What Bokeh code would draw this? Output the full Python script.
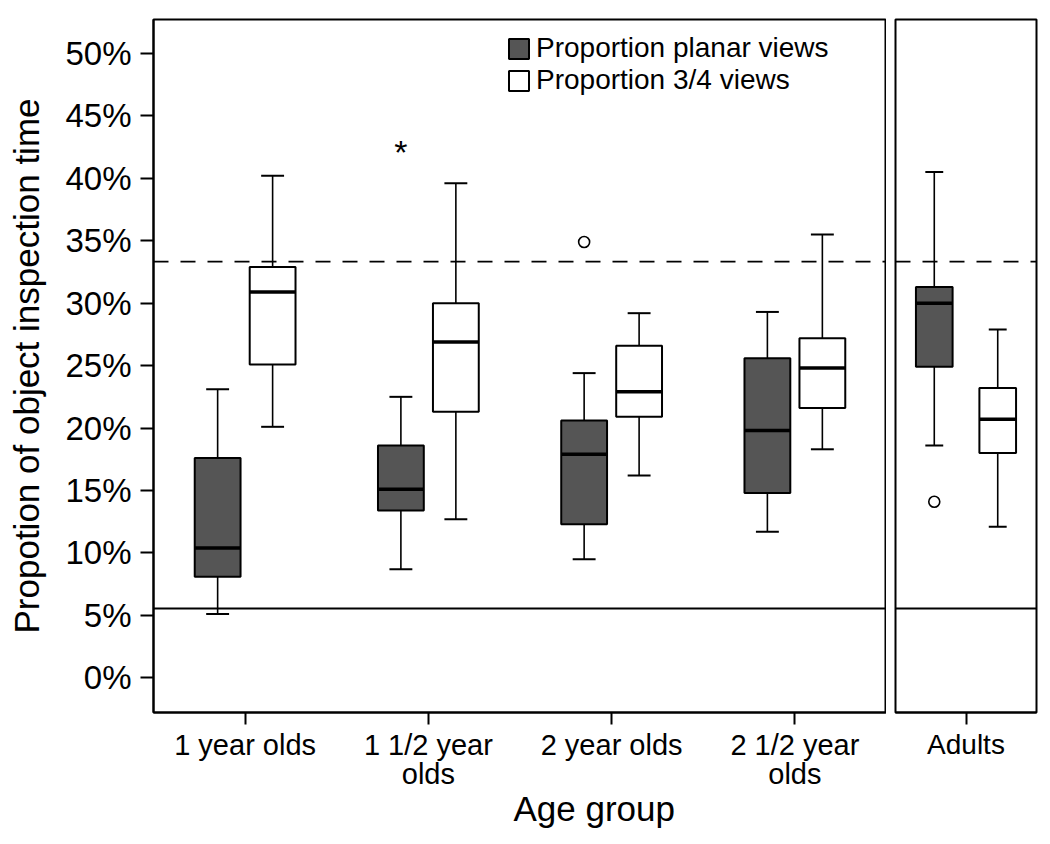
from bokeh.plotting import figure
from bokeh.models import (FactorRange, Range1d, FixedTicker, Span, Title, Legend,
                          LegendItem, ColumnDataSource, PrintfTickFormatter)
from bokeh.transform import dodge
from bokeh.layouts import row
from bokeh.embed import file_html
from bokeh.resources import INLINE

# ---------------- data ----------------
categories = ["1 year olds", "1 1/2 year\nolds", "2 year olds", "2 1/2 year\nolds", "Adults"]
series = ["Proportion planar views", "Proportion 3/4 views"]

# box-plot statistics (percent of object inspection time)
planar_low = [5.1, 8.7, 9.5, 11.7, 18.6]
planar_q1 = [8.1, 13.4, 12.3, 14.8, 24.9]
planar_med = [10.4, 15.1, 17.9, 19.8, 30.0]
planar_q3 = [17.6, 18.6, 20.6, 25.6, 31.3]
planar_high = [23.1, 22.5, 24.4, 29.3, 40.5]

tq_low = [20.1, 12.7, 16.2, 18.3, 12.1]
tq_q1 = [25.1, 21.3, 20.9, 21.6, 18.0]
tq_med = [30.9, 26.9, 22.9, 24.8, 20.7]
tq_q3 = [32.9, 30.0, 26.6, 27.2, 23.2]
tq_high = [40.2, 39.6, 29.2, 35.5, 27.9]

# outliers (all belong to the planar series)
outlier_cat = ["1 1/2 year\nolds", "2 year olds", "Adults"]
outlier_val = [42.5, 34.9, 14.1]
outlier_kind = ["extreme", "outlier", "outlier"]

# reference levels: chance for 3/4 views (1/3) and planar views (1/18)
chance_levels = [100 / 3, 100 / 18]

y_ticks = [0, 5, 10, 15, 20, 25, 30, 35, 40, 45, 50]

# ---------------- styling ----------------
FONT = "Liberation Sans"
DARK = "#555555"
Y_START, Y_END = -2.78, 52.72
FIG_H = 840
TOP, BOTTOM = 19, 128


def base_fig(width, factors, left, right, label_size, yaxis=True):
    p = figure(width=width, height=FIG_H, x_range=FactorRange(factors=factors),
               y_range=Range1d(Y_START, Y_END), output_backend="svg",
               toolbar_location=None, min_border_left=left, min_border_right=right,
               min_border_top=TOP, min_border_bottom=BOTTOM,
               y_axis_location="left" if yaxis else None)
    p.xgrid.visible = False
    p.ygrid.visible = False
    p.outline_line_color = "black"
    p.outline_line_width = 2
    p.background_fill_color = "white"
    p.border_fill_color = "white"
    xa = p.xaxis[0]
    xa.major_tick_out = 12
    xa.major_tick_in = 0
    xa.major_tick_line_width = 2
    xa.axis_line_width = 2
    xa.major_label_text_font = FONT
    xa.major_label_text_font_size = label_size
    xa.major_label_text_color = "black"
    xa.major_label_text_line_height = 0.92
    xa.major_label_standoff = 4
    xa.major_label_orientation = "horizontal"
    for v in chance_levels:
        dash = "15 12" if v > 20 else "solid"
        lw = 1.8 if v > 20 else 2
        p.add_layout(Span(location=v, dimension="width", line_color="black",
                          line_width=lw, line_dash=dash, level="underlay"))
    return p


def draw_boxes(p, idx, off, box_w, cap_w):
    out = []
    for s, sign, fill in [("planar", -1, DARK), ("tq", 1, "white")]:
        d = dict(planar=(planar_low, planar_q1, planar_med, planar_q3, planar_high),
                 tq=(tq_low, tq_q1, tq_med, tq_q3, tq_high))[s]
        src = ColumnDataSource(dict(cat=[categories[i] for i in idx],
                                    low=[d[0][i] for i in idx], q1=[d[1][i] for i in idx],
                                    med=[d[2][i] for i in idx], q3=[d[3][i] for i in idx],
                                    high=[d[4][i] for i in idx]))
        o = sign * off
        xc = dodge("cat", o, range=p.x_range)
        xl_cap = dodge("cat", o - cap_w / 2, range=p.x_range)
        xr_cap = dodge("cat", o + cap_w / 2, range=p.x_range)
        xl_box = dodge("cat", o - box_w / 2, range=p.x_range)
        xr_box = dodge("cat", o + box_w / 2, range=p.x_range)
        p.segment(x0=xc, y0="q3", x1=xc, y1="high", source=src, line_color="black", line_width=1.6)
        p.segment(x0=xc, y0="low", x1=xc, y1="q1", source=src, line_color="black", line_width=1.6)
        p.segment(x0=xl_cap, y0="high", x1=xr_cap, y1="high", source=src, line_color="black", line_width=2)
        p.segment(x0=xl_cap, y0="low", x1=xr_cap, y1="low", source=src, line_color="black", line_width=2)
        r = p.vbar(x=xc, width=box_w, bottom="q1", top="q3", source=src,
                   fill_color=fill, line_color="black", line_width=2)
        p.segment(x0=xl_box, y0="med", x1=xr_box, y1="med", source=src,
                  line_color="black", line_width=3.5)
        out.append(r)
    # outliers of the planar series in this panel
    cats = [categories[i] for i in idx]
    circ = dict(cat=[], val=[])
    star = dict(cat=[], val=[])
    for c, v, k in zip(outlier_cat, outlier_val, outlier_kind):
        if c in cats:
            tgt = star if k == "extreme" else circ
            tgt["cat"].append(c)
            tgt["val"].append(v)
    if circ["cat"]:
        p.scatter(x=dodge("cat", -off, range=p.x_range), y="val", source=ColumnDataSource(circ),
                  marker="circle", size=11, fill_color="white", line_color="black", line_width=1.6)
    if star["cat"]:
        star["txt"] = ["*"] * len(star["cat"])
        p.text(x=dodge("cat", -off, range=p.x_range), y="val", text="txt", source=ColumnDataSource(star),
               text_font_size="34px", text_align="center", text_baseline="middle",
               y_offset=5, text_color="black")
    return out


# ---------------- main panel (children) ----------------
main = base_fig(886, categories[:4], left=153, right=0, label_size="29px")
ya = main.yaxis[0]
ya.ticker = FixedTicker(ticks=y_ticks)
ya.formatter = PrintfTickFormatter(format="%d%%")
ya.major_tick_out = 13
ya.major_tick_in = 0
ya.minor_tick_out = 0
ya.minor_tick_in = 0
ya.major_tick_line_width = 2
ya.axis_line_width = 2
ya.major_label_text_font = FONT
ya.major_label_text_font_size = "33px"
ya.major_label_text_color = "black"
ya.major_label_standoff = 9
ya.axis_label = "Propotion of object inspection time"
ya.axis_label_text_font = FONT
ya.axis_label_text_font_size = "35px"
ya.axis_label_text_font_style = "normal"
ya.axis_label_text_color = "black"
ya.axis_label_standoff = 16

r_planar, r_tq = draw_boxes(main, [0, 1, 2, 3], off=0.15, box_w=0.25, cap_w=0.125)

legend = Legend(items=[LegendItem(label=series[0], renderers=[r_planar]),
                       LegendItem(label=series[1], renderers=[r_tq])],
                location=(353, 616), glyph_width=25, glyph_height=25, label_height=25,
                label_standoff=5, spacing=0, padding=0, margin=0,
                border_line_color=None, background_fill_alpha=0,
                label_text_font=FONT, label_text_font_size="28px", label_text_color="black",
                label_text_line_height=0.8)
main.add_layout(legend)

main.add_layout(Title(text="Age group", align="left", offset=360, text_font=FONT,
                      text_font_size="35px", text_font_style="normal", text_color="black",
                      standoff=-11), "below")

# ---------------- adults panel ----------------
adults = base_fig(156, categories[4:], left=9, right=6, label_size="28px", yaxis=False)
draw_boxes(adults, [4], off=0.225, box_w=0.26, cap_w=0.127)

layout = row(main, adults, spacing=0)
open("out.html", "w").write(file_html(layout, INLINE))
